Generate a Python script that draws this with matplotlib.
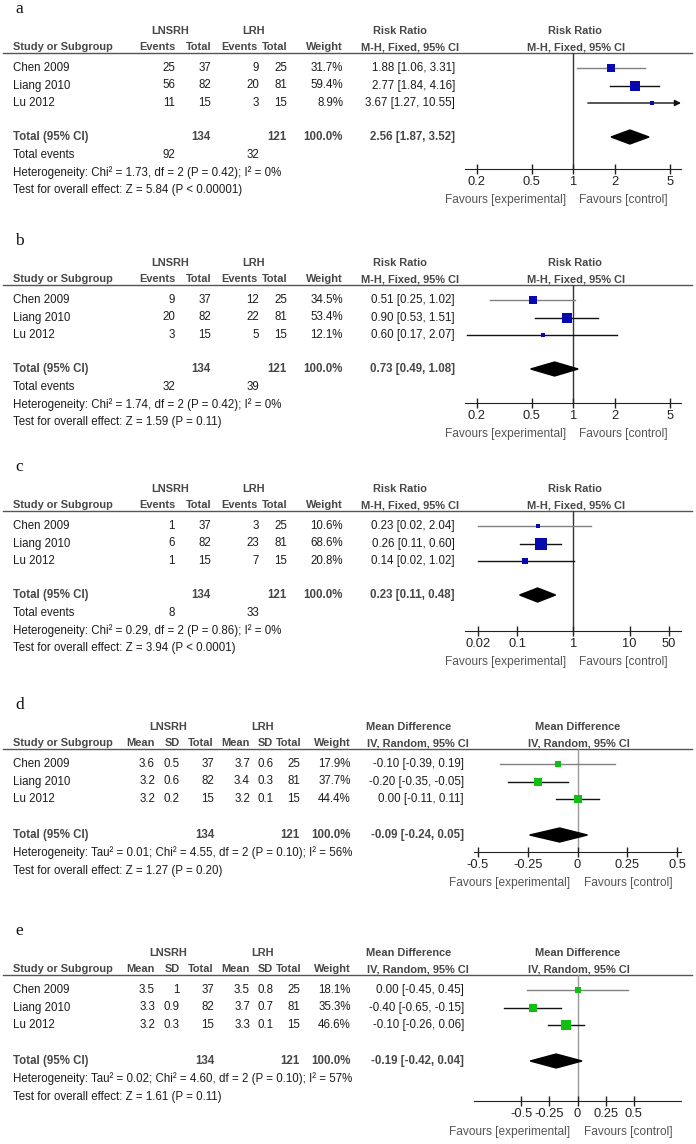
import matplotlib
matplotlib.use('Agg')
import matplotlib.pyplot as plt
from matplotlib.patches import Polygon
from matplotlib.ticker import NullLocator, FixedLocator, FixedFormatter
import numpy as np

W, H = 696, 1144
plt.rcParams['font.family'] = ['Liberation Sans', 'DejaVu Sans']
FS = 8.3      # body text
FSH = 7.9     # bold column headers

studies = ['Chen 2009', 'Liang 2010', 'Lu 2012']
n_exp = [37, 82, 15]
n_ctl = [25, 81, 15]

# a - risk ratio
a_ev_exp = [25, 56, 11]
a_ev_ctl = [9, 20, 3]
a_weight = [31.7, 59.4, 8.9]
a_est = [1.88, 2.77, 3.67]
a_lo = [1.06, 1.84, 1.27]
a_hi = [3.31, 4.16, 10.55]
a_pooled = [2.56, 1.87, 3.52]
a_het = 'Heterogeneity: Chi² = 1.73, df = 2 (P = 0.42); I² = 0%'
a_test = 'Test for overall effect: Z = 5.84 (P < 0.00001)'

# b - risk ratio
b_ev_exp = [9, 20, 3]
b_ev_ctl = [12, 22, 5]
b_weight = [34.5, 53.4, 12.1]
b_est = [0.51, 0.90, 0.60]
b_lo = [0.25, 0.53, 0.17]
b_hi = [1.02, 1.51, 2.07]
b_pooled = [0.73, 0.49, 1.08]
b_het = 'Heterogeneity: Chi² = 1.74, df = 2 (P = 0.42); I² = 0%'
b_test = 'Test for overall effect: Z = 1.59 (P = 0.11)'

# c - risk ratio
c_ev_exp = [1, 6, 1]
c_ev_ctl = [3, 23, 7]
c_weight = [10.6, 68.6, 20.8]
c_est = [0.23, 0.26, 0.14]
c_lo = [0.02, 0.11, 0.02]
c_hi = [2.04, 0.60, 1.02]
c_pooled = [0.23, 0.11, 0.48]
c_het = 'Heterogeneity: Chi² = 0.29, df = 2 (P = 0.86); I² = 0%'
c_test = 'Test for overall effect: Z = 3.94 (P < 0.0001)'

# d - mean difference
d_mean_exp = [3.6, 3.2, 3.2]
d_sd_exp = [0.5, 0.6, 0.2]
d_mean_ctl = [3.7, 3.4, 3.2]
d_sd_ctl = [0.6, 0.3, 0.1]
d_weight = [17.9, 37.7, 44.4]
d_est = [-0.10, -0.20, 0.00]
d_lo = [-0.39, -0.35, -0.11]
d_hi = [0.19, -0.05, 0.11]
d_pooled = [-0.09, -0.24, 0.05]
d_het = 'Heterogeneity: Tau² = 0.01; Chi² = 4.55, df = 2 (P = 0.10); I² = 56%'
d_test = 'Test for overall effect: Z = 1.27 (P = 0.20)'

# e - mean difference
e_mean_exp = [3.5, 3.3, 3.2]
e_sd_exp = [1, 0.9, 0.3]
e_mean_ctl = [3.5, 3.7, 3.3]
e_sd_ctl = [0.8, 0.7, 0.1]
e_weight = [18.1, 35.3, 46.6]
e_est = [0.00, -0.40, -0.10]
e_lo = [-0.45, -0.65, -0.26]
e_hi = [0.45, -0.15, 0.06]
e_pooled = [-0.19, -0.42, 0.04]
e_het = 'Heterogeneity: Tau² = 0.02; Chi² = 4.60, df = 2 (P = 0.10); I² = 57%'
e_test = 'Test for overall effect: Z = 1.61 (P = 0.11)'

rr_ticks_ab = [0.2, 0.5, 1, 2, 5]
rr_labels_ab = ['0.2', '0.5', '1', '2', '5']
rr_ticks_c = [0.02, 0.1, 1, 10, 50]
rr_labels_c = ['0.02', '0.1', '1', '10', '50']
md_ticks = [-0.5, -0.25, 0, 0.25, 0.5]
md_labels = ['-0.5', '-0.25', '0', '0.25', '0.5']

panels = [
    dict(label='a', kind='rr', ev_exp=a_ev_exp, ev_ctl=a_ev_ctl, weight=a_weight,
         est=a_est, lo=a_lo, hi=a_hi, pooled=a_pooled, het=a_het, test=a_test,
         ticks=rr_ticks_ab, labels=rr_labels_ab, xlim=(0.164, 6.0), top=53, axis=116),
    dict(label='b', kind='rr', ev_exp=b_ev_exp, ev_ctl=b_ev_ctl, weight=b_weight,
         est=b_est, lo=b_lo, hi=b_hi, pooled=b_pooled, het=b_het, test=b_test,
         ticks=rr_ticks_ab, labels=rr_labels_ab, xlim=(0.164, 6.0), top=285, axis=118),
    dict(label='c', kind='rr', ev_exp=c_ev_exp, ev_ctl=c_ev_ctl, weight=c_weight,
         est=c_est, lo=c_lo, hi=c_hi, pooled=c_pooled, het=c_het, test=c_test,
         ticks=rr_ticks_c, labels=rr_labels_c, xlim=(0.01175, 81.7), top=511, axis=120),
    dict(label='d', kind='md', m_exp=d_mean_exp, s_exp=d_sd_exp, m_ctl=d_mean_ctl,
         s_ctl=d_sd_ctl, weight=d_weight, est=d_est, lo=d_lo, hi=d_hi,
         pooled=d_pooled, het=d_het, test=d_test,
         ticks=md_ticks, labels=md_labels, xlim=(-0.52, 0.52), top=749, axis=103),
    dict(label='e', kind='md', m_exp=e_mean_exp, s_exp=e_sd_exp, m_ctl=e_mean_ctl,
         s_ctl=e_sd_ctl, weight=e_weight, est=e_est, lo=e_lo, hi=e_hi,
         pooled=e_pooled, het=e_het, test=e_test,
         ticks=md_ticks, labels=md_labels, xlim=(-0.92, 0.92), top=975, axis=126),
]

HDR = '#474747'
TXT = '#1c1c1c'
GREY = '#555555'


def ci_text(v):
    return f'{v[0]:.2f} [{v[1]:.2f}, {v[2]:.2f}]'


fig = plt.figure(figsize=(W / 100, H / 100), dpi=100)
bg = fig.add_axes([0, 0, 1, 1])
bg.set_xlim(0, W)
bg.set_ylim(H, 0)
bg.axis('off')


def put(x, y, s, ha='left', bold=False, color=TXT, size=FS):
    bg.text(x, y, s, ha=ha, va='center', fontsize=size,
            fontweight='bold' if bold else 'normal', color=color)


def head(x, y, s, ha='left'):
    put(x, y, s, ha=ha, bold=True, color=HDR, size=FSH)


for p in panels:
    t = p['top']
    rr = p['kind'] == 'rr'
    rows_y = [t + 15 + 17.5 * i for i in range(3)]
    tot_y = t + 84 if rr else t + 86

    bg.text(15, t - 44, p['label'], fontsize=12.5, family='Liberation Serif',
            va='center', color='#111')
    bg.plot([3, 692], [t, t], color='#555', lw=1)

    head(13, t - 5.5, 'Study or Subgroup')
    if rr:
        head(170, t - 22, 'LNSRH', ha='center')
        head(254, t - 22, 'LRH', ha='center')
        head(400, t - 22, 'Risk Ratio', ha='center')
        head(410, t - 5.5, 'M-H, Fixed, 95% CI', ha='center')
        head(575, t - 22, 'Risk Ratio', ha='center')
        head(576, t - 5.5, 'M-H, Fixed, 95% CI', ha='center')
        for x, s in zip([175, 211, 257, 288, 343],
                        ['Events', 'Total', 'Events', 'Total', 'Weight']):
            head(x, t - 5.5, s, ha='right')
        cols = [175, 211, 259, 287]
        wcol, ecol = 343, 455
        for i, y in enumerate(rows_y):
            put(13, y, studies[i])
            vals = [p['ev_exp'][i], n_exp[i], p['ev_ctl'][i], n_ctl[i]]
            for x, v in zip(cols, vals):
                put(x, y, str(v), ha='right')
        tcols = (211, 287)
    else:
        head(168, t - 22, 'LNSRH', ha='center')
        head(263, t - 22, 'LRH', ha='center')
        head(409, t - 22, 'Mean Difference', ha='center')
        head(418, t - 5.5, 'IV, Random, 95% CI', ha='center')
        head(578, t - 22, 'Mean Difference', ha='center')
        head(579, t - 5.5, 'IV, Random, 95% CI', ha='center')
        for x, s in zip([155, 180, 214, 250, 273, 301, 351],
                        ['Mean', 'SD', 'Total', 'Mean', 'SD', 'Total', 'Weight']):
            head(x, t - 5.5, s, ha='right')
        cols = [155, 180, 214, 250, 274, 300]
        wcol, ecol = 351, 464
        for i, y in enumerate(rows_y):
            put(13, y, studies[i])
            vals = [p['m_exp'][i], p['s_exp'][i], n_exp[i],
                    p['m_ctl'][i], p['s_ctl'][i], n_ctl[i]]
            for x, v in zip(cols, vals):
                put(x, y, f'{v:g}', ha='right')
        tcols = (214, 300)

    for i, y in enumerate(rows_y):
        put(wcol, y, f'{p["weight"][i]:.1f}%', ha='right')
        put(ecol, y, ci_text([p['est'][i], p['lo'][i], p['hi'][i]]), ha='right')

    put(13, tot_y, 'Total (95% CI)', bold=True, color=HDR)
    put(tcols[0], tot_y, str(sum(n_exp)), ha='right', bold=True, color=HDR)
    put(tcols[1], tot_y, str(sum(n_ctl)), ha='right', bold=True, color=HDR)
    put(wcol, tot_y, '100.0%', ha='right', bold=True, color=HDR)
    put(ecol, tot_y, ci_text(p['pooled']), ha='right', bold=True, color=HDR)

    if rr:
        put(13, t + 102, 'Total events')
        put(175, t + 102, str(sum(p['ev_exp'])), ha='right')
        put(259, t + 102, str(sum(p['ev_ctl'])), ha='right')
        put(13, t + 119.5, p['het'])
        put(13, t + 137, p['test'])
    else:
        put(13, t + 104, p['het'])
        put(13, t + 122, p['test'])

    # forest plot axes
    left = 465 if rr else 474
    right = 681
    bottom = t + p['axis']
    ax = fig.add_axes([left / W, 1 - bottom / H, (right - left) / W, (bottom - t) / H])
    ax.patch.set_alpha(0)
    if rr:
        ax.set_xscale('log')
    ax.set_xlim(*p['xlim'])
    ax.set_ylim(p['axis'], 0)
    null = 1 if rr else 0
    ax.axvline(null, color='#333' if rr else '#999', lw=1, zorder=1)
    col = '#0808B0' if rr else '#10C010'
    xmax = p['xlim'][1]
    for i, y in enumerate(rows_y):
        yy = y - t
        lc = '#808080' if i == 0 else '#111'
        lo, hi = p['lo'][i], p['hi'][i]
        if hi > xmax:
            ax.annotate('', xy=(xmax, yy), xytext=(lo, yy),
                        arrowprops=dict(arrowstyle='-|>', color=lc, lw=1,
                                        mutation_scale=9, shrinkA=0, shrinkB=0))
        else:
            ax.plot([lo, hi], [yy, yy], color=lc, lw=1, zorder=2)
        side = 1.35 * np.sqrt(p['weight'][i]) * 0.72
        ax.scatter([p['est'][i]], [yy], marker='s', s=side ** 2, color=col,
                   linewidths=0, zorder=3)
    pe, pl, ph = p['pooled']
    ty = tot_y - t
    ax.add_patch(Polygon([(pl, ty), (pe, ty - 7), (ph, ty), (pe, ty + 7)],
                         closed=True, color='black', zorder=3))

    for s in ['top', 'left', 'right']:
        ax.spines[s].set_visible(False)
    ax.spines['bottom'].set_color('#222')
    ax.set_yticks([])
    ax.xaxis.set_major_locator(FixedLocator(p['ticks']))
    ax.xaxis.set_major_formatter(FixedFormatter(p['labels']))
    ax.xaxis.set_minor_locator(NullLocator())
    ax.tick_params(axis='x', direction='inout', length=7, width=1, color='#222',
                   labelsize=9.3, labelcolor='#222', pad=1.5)

    ax.annotate('Favours [experimental]', xy=(null, 0), xycoords=('data', 'axes fraction'),
                xytext=(-7, -31), textcoords='offset pixels', ha='right', va='center',
                fontsize=FS + 0.3, color=GREY)
    ax.annotate('Favours [control]', xy=(null, 0), xycoords=('data', 'axes fraction'),
                xytext=(6, -31), textcoords='offset pixels', ha='left', va='center',
                fontsize=FS + 0.3, color=GREY)

fig.savefig('out.png', dpi=100)
